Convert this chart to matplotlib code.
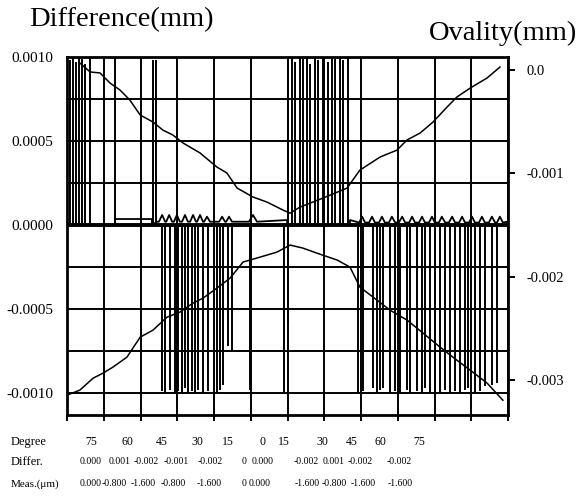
import matplotlib
matplotlib.use("Agg")
import matplotlib.pyplot as plt
import numpy as np

plt.rcParams['font.family'] = ['Liberation Serif', 'DejaVu Serif']

# ---------------- data ----------------
# positive difference spikes (position 0..120, value mm)
pos_spike_x = [0.8, 1.6, 2.4, 3.3, 4.1, 4.9, 6.3, 13.1, 23.4, 24.2,
               60.1, 61.2, 62.0, 63.4, 64.2, 65.3, 66.1, 67.5, 68.3, 69.7,
               71.0, 72.1, 72.9, 74.3, 75.1, 76.5]
pos_spike_v = [0.00098, 0.0010, 0.00097, 0.0010, 0.00099, 0.00096, 0.0010, 0.0010, 0.00098, 0.00098,
               0.00098, 0.0010, 0.00097, 0.0010, 0.00099, 0.0010, 0.00096, 0.0010, 0.00098, 0.0010,
               0.00097, 0.0010, 0.00099, 0.0010, 0.00098, 0.0010]
# negative difference spikes
neg_spike_x = [25.9, 26.7, 28.0, 29.4, 30.2, 31.3, 32.1, 32.9, 34.0, 34.8,
               35.6, 37.0, 38.4, 40.8, 41.6, 42.4, 43.8, 44.9, 49.8, 59.0, 60.1,
               79.2, 80.5, 83.3, 84.4, 85.2, 86.0, 87.9, 89.3, 90.6, 92.5,
               93.3, 95.2, 96.6, 97.4, 98.8, 100.1, 101.5, 102.9, 104.2, 105.6,
               107.0, 108.3, 109.1, 111.0, 112.4, 113.7, 115.6, 117.0]
neg_spike_v = [-0.00099, -0.0010, -0.00098, -0.0010, -0.00099, -0.0010, -0.00097, -0.0010, -0.00099, -0.0010,
               -0.00098, -0.0010, -0.00099, -0.0010, -0.00098, -0.00095, -0.00072, -0.00075, -0.00098, -0.0010, -0.00058,
               -0.0010, -0.00099, -0.00097, -0.0010, -0.00098, -0.00097, -0.0010, -0.00099, -0.0010, -0.00098,
               -0.0010, -0.00099, -0.0010, -0.00097, -0.0010, -0.00099, -0.0010, -0.00098, -0.0010, -0.00099,
               -0.0010, -0.00098, -0.00097, -0.0010, -0.00099, -0.00096, -0.00095, -0.00094]

# upper (V-shaped) curve
upper_x = [3.5, 6.3, 9.0, 11.7, 14.4, 17.1, 19.9, 23.4, 26.1, 28.8, 31.6, 36.2, 40.8, 43.5,
           46.3, 50.6, 54.4, 58.8, 60.7, 63.4, 69.7, 76.2, 79.7, 85.2, 89.8, 92.5, 96.1,
           99.6, 103.4, 106.1, 109.7, 114.3, 117.8]
upper_v = [0.000964, 0.000911, 0.000905, 0.000845, 0.000804, 0.000744, 0.000655, 0.000613,
           0.000565, 0.000536, 0.000488, 0.000429, 0.000345, 0.000310, 0.000220, 0.000167,
           0.000137, 0.000089, 0.000071, 0.000107, 0.000161, 0.000220, 0.000327, 0.000405,
           0.000446, 0.000506, 0.000548, 0.000613, 0.000702, 0.000762, 0.000815, 0.000875,
           0.000940]
# lower (inverted V) curve
lower_x = [0.0, 3.5, 7.1, 9.8, 12.5, 16.3, 19.9, 23.4, 27.2, 30.7, 34.3, 37.0, 40.8, 44.4,
           47.9, 51.7, 57.1, 60.7, 64.2, 68.0, 73.5, 77.0, 79.7, 83.3, 87.9, 92.5, 96.9,
           101.5, 106.1, 109.7, 114.3, 118.6]
lower_v = [-0.001012, -0.000982, -0.000911, -0.000881, -0.000845, -0.000786, -0.000667,
           -0.000625, -0.000548, -0.000518, -0.000464, -0.000435, -0.000375, -0.000315,
           -0.000220, -0.000196, -0.000161, -0.000119, -0.000137, -0.000167, -0.000208,
           -0.000250, -0.000369, -0.000429, -0.000506, -0.000565, -0.000643, -0.000726,
           -0.000804, -0.000863, -0.000940, -0.001042]

# near-zero difference trace
base_x = [0, 13.1, 13.1, 23.1, 23.1, 24.5,
          25.0, 25.9, 26.7, 27.0, 27.8, 28.6, 29.1, 29.9, 30.7, 31.3, 32.1, 32.9,
          33.5, 34.3, 35.1, 35.4, 36.2, 37.0, 37.3, 38.1, 38.9, 41.4, 42.2, 43.0,
          43.3, 44.1, 44.9, 49.5, 50.6, 51.7, 59.9, 59.9, 77.0, 77.0,
          79.5, 80.3, 81.1, 82.2, 83.0, 83.8, 84.9, 85.7, 86.5, 87.6, 88.4, 89.3,
          90.3, 91.2, 92.0, 93.1, 93.9, 94.7, 95.8, 96.6, 97.4, 98.5, 99.3, 100.1,
          101.2, 102.0, 102.9, 103.9, 104.8, 105.6, 106.7, 107.5, 108.3, 109.4, 110.2, 111.0,
          112.1, 112.9, 113.7, 114.8, 115.6, 116.5, 117.0, 117.8, 118.6, 119.7, 120]
base_v = [0, 0, 0.000036, 0.000036, 0, 0.00002,
          0.00002, 0.00006, 0.00002, 0.00002, 0.00006, 0.00002, 0.00002, 0.00006, 0.00002,
          0.00002, 0.00006, 0.00002, 0.00002, 0.00006, 0.00002, 0.00002, 0.00006, 0.00002,
          0.00002, 0.00005, 0.00002, 0.00002, 0.00005, 0.00002, 0.00002, 0.00005, 0.00002,
          0.00002, 0.00006, 0.00002, 0.00003, 0, 0, 0.00003,
          0.000015, 0.00005, 0.000015, 0.000015, 0.00005, 0.000015, 0.000015, 0.00005, 0.000015,
          0.000015, 0.00005, 0.000015, 0.000015, 0.00005, 0.000015, 0.000015, 0.00005, 0.000015,
          0.000015, 0.00005, 0.000015, 0.000015, 0.00005, 0.000015, 0.000015, 0.00005, 0.000015,
          0.000015, 0.00005, 0.000015, 0.000015, 0.00005, 0.000015, 0.000015, 0.00005, 0.000015,
          0.000015, 0.00005, 0.000015, 0.000015, 0.00005, 0.000015, 0.000015, 0.00005, 0.000015,
          0.00002, 0]

left_ticks = [0.0010, 0.0005, 0.0, -0.0005, -0.0010]
left_tick_labels = ['0.0010', '0.0005', '0.0000', '-0.0005', '-0.0010']
left_minor = [0.00075, 0.00025, -0.00025, -0.00075]
right_ticks = [0.0, -0.001, -0.002, -0.003]
right_tick_labels = ['0.0', '-0.001', '-0.002', '-0.003']

degree_labels = ['75', '60', '45', '30', '15', '0', '15', '30', '45', '60', '75']
differ_labels = ['0.000', '0.001', '-0.002', '-0.001', '-0.002', '0', '0.000',
                 '-0.002', '0.001', '-0.002', '-0.002']
meas_labels = ['0.000', '-0.800', '-1.600', '-0.800', '-1.600', '0', '0.000',
               '-1.600', '-0.800', '-1.600', '-1.600']

# ---------------- layout ----------------
W, H = 580, 500
fig = plt.figure(figsize=(W / 100, H / 100), dpi=100)
ax = fig.add_axes([67 / W, 1 - 415 / H, 441 / W, 358 / H])

ax.set_xlim(0, 120)
ax.set_ylim(-0.00113, 0.0010)

ax.set_yticks(left_ticks)
ax.set_yticklabels(left_tick_labels, fontsize=11)
ax.set_yticks(left_minor, minor=True)
ax.set_xticks(np.arange(0, 121, 10))
ax.set_xticklabels([])
ax.grid(True, which='both', color='black', linewidth=1.4)
ax.set_axisbelow(True)
ax.tick_params(axis='y', which='both', length=0, pad=10)
ax.tick_params(axis='x', direction='out', length=4, width=1.4, color='black')
for s in ax.spines.values():
    s.set_linewidth(2)
    s.set_color('black')

ax.axhline(0, color='black', linewidth=2.8, zorder=3)

ax.vlines(pos_spike_x, 0, pos_spike_v, color='black', linewidth=1.4, zorder=4)
ax.vlines(neg_spike_x, 0, neg_spike_v, color='black', linewidth=1.4, zorder=4)
ax.plot(base_x, base_v, color='black', linewidth=1.3, zorder=5)
ax.plot(upper_x, upper_v, color='black', linewidth=1.1, zorder=5)
ax.plot(lower_x, lower_v, color='black', linewidth=1.1, zorder=5)

ax2 = ax.twinx()
ax2.set_ylim(-0.00334, 0.000126)
ax2.set_yticks(right_ticks)
ax2.set_yticklabels(right_tick_labels, fontsize=10.5)
ax2.tick_params(axis='y', direction='out', length=5, width=1.4, pad=8)
for s in ax2.spines.values():
    s.set_visible(False)

fig.text(121 / W, 1 - 20 / H, 'Difference(mm)', fontsize=20.5, ha='center', va='center')
fig.text(503 / W, 1 - 33 / H, 'Ovality(mm)', fontsize=20.5, ha='center', va='center')

deg_x = [91, 127, 162, 197, 228, 262, 284, 322, 352, 380, 419]
dif_x = [91, 120, 146, 176, 210, 244, 263, 306, 334, 360, 399]
mea_x = [91, 114, 143, 173, 209, 244, 260, 307, 334, 363, 400]
rows = [('Degree', 442, deg_x, degree_labels, 9, 8.5),
        ('Differ.', 462, dif_x, differ_labels, 9, 7),
        ('Meas.(\u03bcm)', 484, mea_x, meas_labels, 8, 7)]
for name, y, xs, labs, fs_name, fs_val in rows:
    fig.text(11 / W, 1 - y / H, name, fontsize=fs_name, ha='left', va='center')
    for xp, lab in zip(xs, labs):
        fig.text(xp / W, 1 - y / H, lab, fontsize=fs_val, ha='center', va='center')

fig.savefig('out.png', dpi=100, facecolor='white')
